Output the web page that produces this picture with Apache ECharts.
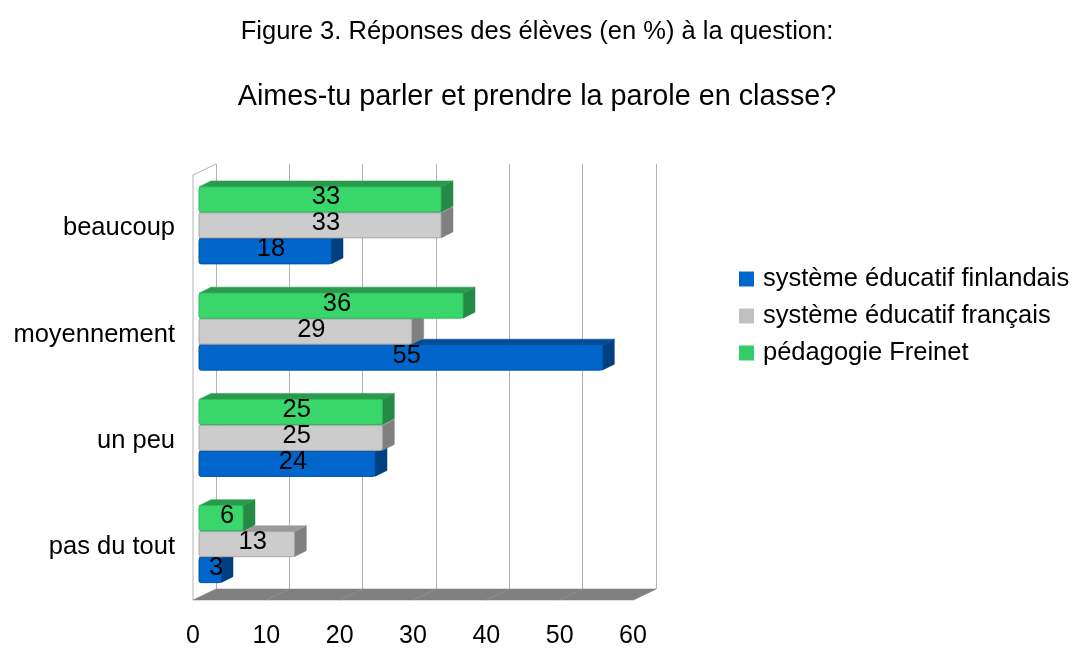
<!DOCTYPE html>
<html><head><meta charset="utf-8">
<script src="https://cdn.jsdelivr.net/npm/echarts@6/dist/echarts.min.js"></script>
<style>html,body{margin:0;padding:0;background:#fff}#c{width:1074px;height:649px}</style>
</head><body><div id="c"></div>
<script>
// ---- data ----
const categories = ['beaucoup', 'moyennement', 'un peu', 'pas du tout'];
const seriesNames = ['système éducatif finlandais', 'système éducatif français', 'pédagogie Freinet'];
const finlandais = [18, 55, 24, 3];
const francais = [33, 29, 25, 13];
const freinet = [33, 36, 25, 6];
const xTicks = [0, 10, 20, 30, 40, 50, 60];
const titleText = 'Figure 3. Réponses des élèves (en %) à la question:';
const subtitleText = 'Aimes-tu parler et prendre la parole en classe?';

// ---- styles ----
const FONT = '"Liberation Sans", Arial, sans-serif';
const palettes = [
  {front: '#0066cc', top: '#004c99', side: '#003f80', border: '#0052a6', legend: '#0066cc'},
  {front: '#cccccc', top: '#9a9a9a', side: '#808080', border: '#a9a9a9', legend: '#c0c0c0'},
  {front: '#38d66b', top: '#2a9a4c', side: '#248a45', border: '#2dbb5b', legend: '#33cc66'}
];
const slotTop = [10, -16, -42]; // front-face top relative to category centre
const FACE_H = 25, DX = 12, DY = -6;     // bar face height and 3D depth offset
const WDX = -23, WDY = 11;              // back wall -> front plane offset

function barRender(si) {
  const col = palettes[si];
  return function (params, api) {
    const cat = api.value(0), val = api.value(1);
    const p0 = api.coord([0, cat]);
    const p1 = api.coord([val, cat]);
    const yt = p0[1] + slotTop[si] + 0.5, yb = yt + FACE_H;
    const x0 = p0[0], x1 = p1[0];
    return {
      type: 'group',
      children: [
        {type: 'polygon', shape: {points: [[x1, yt], [x1 + DX, yt + DY], [x1 + DX, yb + DY], [x1, yb]]},
          style: {fill: col.side, stroke: col.side, lineWidth: 0.5}},
        {type: 'polygon', shape: {points: [[x0, yt], [x0 + DX, yt + DY], [x1 + DX, yt + DY], [x1, yt]]},
          style: {fill: col.top, stroke: col.top, lineWidth: 0.5}},
        {type: 'rect', shape: {x: x0, y: yt, width: x1 - x0, height: yb - yt, r: 2},
          style: {fill: col.front, stroke: col.border, lineWidth: 1}},
        {type: 'text', x: (x0 + x1 + DX) / 2, y: (yt + yb + DY) / 2 + 1,
          style: {text: String(val), fill: '#000', font: '25.5px ' + FONT, align: 'center', verticalAlign: 'middle'}}
      ]
    };
  };
}

function wallRender(params, api) {
  const bl = api.coord([0, 0]), tl = api.coord([0, 1]);
  const br = api.coord([xTicks[xTicks.length - 1], 0]);
  const children = [];
  children.push({type: 'polygon', shape: {points: [[bl[0], bl[1]], [br[0], br[1]], [br[0] + WDX, br[1] + WDY], [bl[0] + WDX, bl[1] + WDY]]},
    style: {fill: '#808080', stroke: '#7a7a7a', lineWidth: 0.5}});
  xTicks.forEach(function (t, i) {
    if (i === 0) return;
    const b = api.coord([t, 0]);
    children.push({type: 'line', shape: {x1: b[0], y1: b[1], x2: b[0] + WDX, y2: b[1] + WDY},
      style: {stroke: '#8f8f8f', lineWidth: 1}});
  });
  // left side wall
  children.push({type: 'line', shape: {x1: tl[0] + WDX, y1: tl[1] + WDY, x2: bl[0] + WDX, y2: bl[1] + WDY},
    style: {stroke: '#b3b3b3', lineWidth: 1}});
  children.push({type: 'line', shape: {x1: tl[0] + WDX, y1: tl[1] + WDY, x2: tl[0], y2: tl[1]},
    style: {stroke: '#b3b3b3', lineWidth: 1}});
  return {type: 'group', children: children};
}

const seriesValues = [finlandais, francais, freinet];
const chart = echarts.init(document.getElementById('c'), null, {renderer: 'canvas'});
const option = {
  backgroundColor: '#fff',
  animation: false,
  title: [
    {text: titleText, left: 'center', top: 19, padding: [0, 20, 0, 0],
      textStyle: {fontSize: 25.5, fontWeight: 'normal', fontFamily: FONT, color: '#000'}},
    {text: subtitleText, left: 'center', top: 83, padding: [0, 25, 0, 0],
      textStyle: {fontSize: 28.8, fontWeight: 'normal', fontFamily: FONT, color: '#000'}}
  ],
  legend: {
    orient: 'vertical', left: 734, top: 261, itemWidth: 15, itemHeight: 15, itemGap: 11,
    icon: 'rect',
    data: seriesNames.map(function (n, i) { return {name: n, itemStyle: {color: palettes[i].legend}}; }),
    textStyle: {fontSize: 25.5, fontFamily: FONT, color: '#000', padding: [0, 0, 0, 4]}
  },
  grid: [
    {left: 199, top: 175.25, width: 440, height: 425},   // bars (front face plane)
    {left: 193, top: 175, width: 440, height: 425},      // front plane (tick labels)
    {left: 216, top: 164, width: 440, height: 425}       // back wall
  ],
  xAxis: [
    {gridIndex: 0, type: 'value', min: 0, max: 60, interval: 10, show: false},
    {gridIndex: 1, type: 'value', min: 0, max: 60, interval: 10,
      axisLine: {show: false}, axisTick: {show: false}, splitLine: {show: false},
      axisLabel: {fontSize: 25, fontFamily: FONT, color: '#000', margin: 28}},
    {gridIndex: 2, type: 'value', min: 0, max: 60, interval: 10,
      axisLine: {show: false}, axisTick: {show: false}, axisLabel: {show: false},
      splitLine: {show: true, lineStyle: {color: '#b3b3b3', width: 1}}}
  ],
  yAxis: [
    {gridIndex: 0, type: 'category', data: categories, inverse: true,
      axisLine: {show: false}, axisTick: {show: false},
      axisLabel: {fontSize: 25.5, fontFamily: FONT, color: '#000', margin: 24, padding: [6, 0, 0, 0]}},
    {gridIndex: 1, type: 'category', data: categories, inverse: true, show: false},
    {gridIndex: 2, type: 'value', min: 0, max: 1, show: false}
  ],
  series: [
    {type: 'custom', name: 'walls', xAxisIndex: 2, yAxisIndex: 2, z: 1, silent: true,
      renderItem: wallRender, data: [[0, 0]]}
  ].concat(seriesNames.map(function (n, si) {
    return {
      type: 'custom', name: n, xAxisIndex: 0, yAxisIndex: 0, z: 2 + si,
      itemStyle: {color: palettes[si].legend},
      encode: {x: 1, y: 0},
      renderItem: barRender(si),
      data: categories.map(function (c, ci) { return [ci, seriesValues[si][ci]]; })
    };
  }))
};
chart.setOption(option);
</script>
</body></html>
